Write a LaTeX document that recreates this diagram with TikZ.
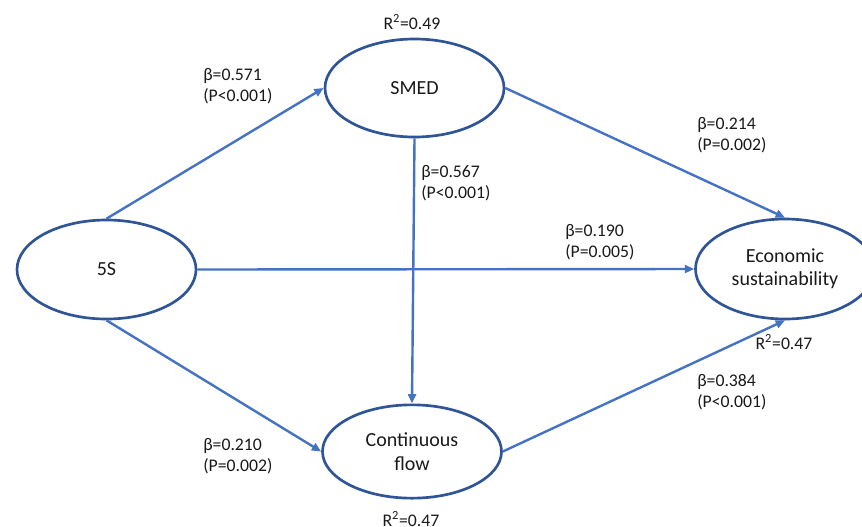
\documentclass[tikz,border=0pt]{standalone}
\usepackage{fontspec}
\setmainfont{Carlito}
\usetikzlibrary{shapes.geometric,arrows.meta}
\definecolor{ellborder}{HTML}{2F5597}
\definecolor{conn}{HTML}{4472C4}
\definecolor{txt}{HTML}{1A1A1A}
\begin{document}
\begin{tikzpicture}[x=0.75pt,y=-0.75pt,
  latent/.style={ellipse,draw=ellborder,line width=2pt,fill=white,inner sep=0pt,
    minimum width=134.25pt,text=txt,align=center,
    font=\fontsize{15}{17.5}\selectfont},
  path/.style={draw=conn,line width=1.8pt,-{Triangle[length=7pt,width=6pt]}},
  coef/.style={anchor=west,inner sep=0pt,align=left,text=txt,
    font=\fontsize{13.3}{16.2}\selectfont},
  rsq/.style={inner sep=0pt,text=txt,font=\fontsize{13.3}{16}\selectfont}]
\useasboundingbox[fill=white] (0,0) rectangle (862,526);
\node[latent,minimum height=74.25pt] (fives) at (106.5,269.5) {5S};
\node[latent,minimum height=73.5pt] (smed) at (414.5,88) {SMED};
\node[latent,minimum height=70pt] (cflow) at (412,451.5) {Continuous\\flow};
\node[latent,minimum height=75pt] (econ) at (785,269) {Economic\\sustainability};
\draw[path] (fives.north) -- (smed.west);
\draw[path] (fives.south) -- (cflow.west);
\draw[path] (fives.east) -- (econ.west);
\draw[path] (smed.east) -- (econ.north);
\draw[path] (smed.south) -- (cflow.north);
\draw[path] (cflow.east) -- (econ.south);
\node[coef] (c1) at (203,86) {β=0.571\\(P<0.001)};
\node[coef] (c2) at (421,183) {β=0.567\\(P<0.001)};
\node[coef] (c3) at (697,135) {β=0.214\\(P=0.002)};
\node[coef] (c4) at (565,242) {β=0.190\\(P=0.005)};
\node[coef] (c5) at (203,456) {β=0.210\\(P=0.002)};
\node[coef] (c6) at (697,392) {β=0.384\\(P<0.001)};
\node[rsq] (r1) at (412,22) {R\textsuperscript{2}=0.49};
\node[rsq] (r2) at (784,342) {R\textsuperscript{2}=0.47};
\node[rsq] (r3) at (411,519) {R\textsuperscript{2}=0.47};
\end{tikzpicture}
\end{document}
